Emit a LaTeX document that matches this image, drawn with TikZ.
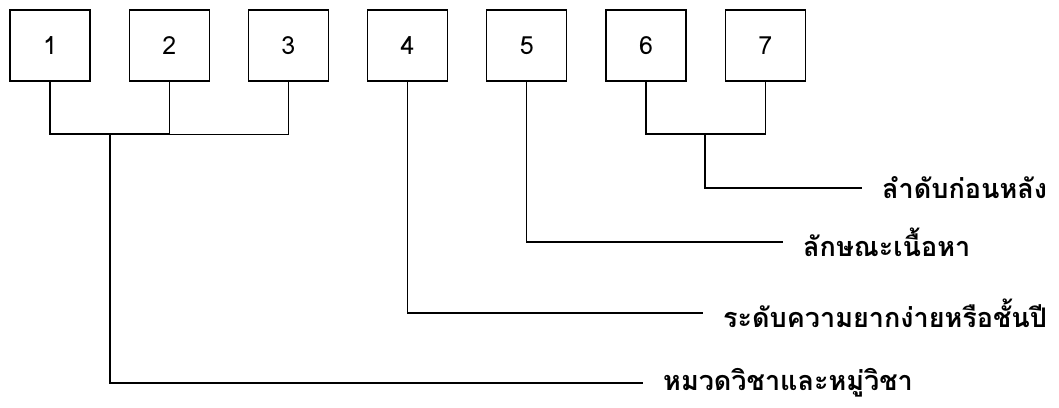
\documentclass[tikz,border=0pt]{standalone}
\usepackage{fontspec}
\setmainfont[Script=Thai]{Loma}
\usepackage{tikz}
\usetikzlibrary{calc}
\tikzstyle{numbox}=[draw,line width=1.3pt,minimum width=80pt,minimum height=71pt,inner sep=0pt,font=\fontsize{25}{30}\selectfont]
\tikzstyle{wire} = [draw,line width=1.3pt,-]
\tikzstyle{thinwire} = [draw,line width=0.8pt,-]
\tikzstyle{caption}=[anchor=west,inner xsep=20pt,inner ysep=0pt,font=\bfseries\fontsize{27}{32}\selectfont]

\begin{document}
\begin{tikzpicture}[x=1pt,y=-1pt]
      \useasboundingbox (0,0) rectangle (1059,407);
      \foreach \id in {1,...,7}{
        \node[numbox] (b\id) at ({50+119.2*(\id-1)},45.5) {\id};
      }
      \coordinate (j12) at (110,134);
      \coordinate (j67) at (705,134);

      \node[caption] (l1) at (643,383) {หมวดวิชาและหมู่วิชา};
      \node[caption] (l4) at (703,313) {ระดับความยากง่ายหรือชั้นปี};
      \node[caption] (l5) at (783,242) {ลักษณะเนื้อหา};
      \node[caption] (l67) at (862,188) {ลำดับก่อนหลัง};

      \path[wire] (b1.south) |- (j12) -| (b2.south);
      \path[thinwire] (b3.south) |- (b2.south |- j12);
      \path[wire] (j12) |- (l1.west);
      \path[wire] (b4.south) |- (l4.west);
      \path[wire] (b5.south) |- (l5.west);
      \path[wire] (b6.south) |- (j67) -| (b7.south);
      \path[wire] (j67) |- (l67.west);

    \end{tikzpicture}
\end{document}
